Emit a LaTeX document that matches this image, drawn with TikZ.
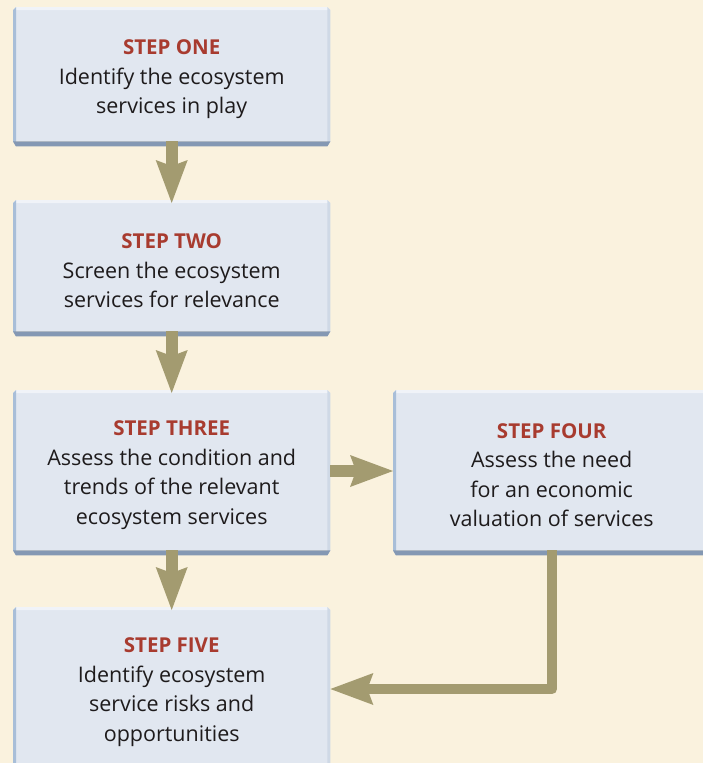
\documentclass[tikz,border=0pt]{standalone}
\usepackage{fontspec}
\setmainfont{Open Sans}
\usetikzlibrary{arrows.meta}
\definecolor{bg}{HTML}{FAF2DE}
\definecolor{boxfill}{HTML}{E1E7F0}
\definecolor{bevtop}{HTML}{F0F3F8}
\definecolor{bevleft}{HTML}{A8BED8}
\definecolor{bevbot}{HTML}{8498B3}
\definecolor{bevright}{HTML}{CFD9E6}
\definecolor{arrowc}{HTML}{A39B70}
\definecolor{titlec}{HTML}{A83B2F}
\definecolor{textc}{HTML}{1E1B1C}
\newcommand{\bevelbox}[1]{%
  \fill[bevtop] (#1.north west) -- (#1.north east) -- ([xshift=-3pt,yshift=3pt]#1.north east) -- ([xshift=3pt,yshift=3pt]#1.north west) -- cycle;
  \fill[bevleft] (#1.north west) -- ([xshift=3pt,yshift=3pt]#1.north west) -- ([xshift=3pt,yshift=-5pt]#1.south west) -- (#1.south west) -- cycle;
  \fill[bevright] (#1.north east) -- ([xshift=-3pt,yshift=3pt]#1.north east) -- ([xshift=-3pt,yshift=-5pt]#1.south east) -- (#1.south east) -- cycle;
  \fill[bevbot] (#1.south west) -- (#1.south east) -- ([xshift=-3pt,yshift=-5pt]#1.south east) -- ([xshift=3pt,yshift=-5pt]#1.south west) -- cycle;
}
\tikzset{
  stepbox/.style={fill=boxfill, inner sep=0pt, minimum width=317pt, anchor=north west,
    text=textc, align=center, font=\fontsize{21.5}{29.5}\selectfont},
  flow/.style={draw=arrowc, line width=12pt,
    -{Stealth[length=43pt,width=32pt,inset=6pt,line width=0pt]}},
}
\newcommand{\ttl}[1]{\rule{0pt}{22pt}{\fontsize{20.5}{29.5}\selectfont\bfseries\color{titlec}#1}}
\begin{document}
\begin{tikzpicture}[x=1pt,y=-1pt]
\useasboundingbox (0,0) rectangle (703,763);
\fill[bg] (0,0) rectangle (703,763);
\clip (0,0) rectangle (703,763);
\node[stepbox, minimum height=131pt] (s1) at (13,10) {\ttl{STEP ONE}\\Identify the ecosystem\\services in play};
\node[stepbox, minimum height=128pt] (s2) at (13,203) {\ttl{STEP TWO}\\Screen the ecosystem\\services for relevance};
\node[stepbox, minimum height=157pt] (s3) at (13,393) {\ttl{STEP THREE}\\Assess the condition and\\trends of the relevant\\ecosystem services};
\node[stepbox, minimum height=157pt, minimum width=317pt] (s4) at (393,393) {\ttl{STEP FOUR}\\Assess the need\\for an economic\\valuation of services};
\node[stepbox, minimum height=157pt] (s5) at (13,610) {\ttl{STEP FIVE}\\Identify ecosystem\\service risks and\\opportunities};
\bevelbox{s1}\bevelbox{s2}\bevelbox{s3}\bevelbox{s4}\bevelbox{s5}
\draw[flow] (s1.south) -- (s2.north);
\draw[flow] (s2.south) -- (s3.north);
\draw[flow] (s3.south) -- (s5.north);
\draw[flow] (s3.east |- 0,471) -- (s4.west |- 0,471);
\coordinate (bend) at (552,689);
\draw[flow, line width=10.5pt, line join=round] (s4.south -| bend) -- (bend) -- (s5.east |- bend);
\end{tikzpicture}
\end{document}
